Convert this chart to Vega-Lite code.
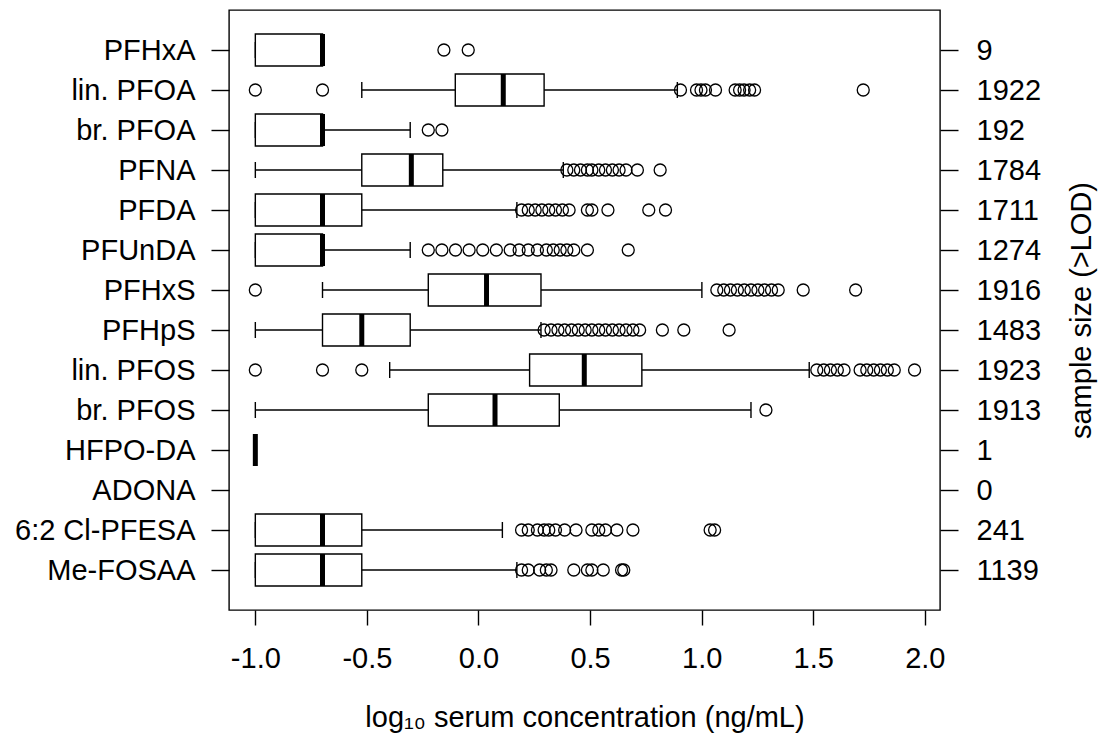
{
  "$schema": "https://vega.github.io/schema/vega-lite/v6.json",
  "width": 711,
  "height": 600,
  "autosize": "none",
  "padding": {"left": 229, "top": 10, "right": 160, "bottom": 135},
  "background": "white",
  "config": {
    "view": {"stroke": "black", "strokeWidth": 1.4},
    "font": "Liberation Sans",
    "axis": {
      "labelFont": "Liberation Sans", "labelFontSize": 29, "labelColor": "black", "labelLimit": 400,
      "titleFont": "Liberation Sans", "titleFontSize": 29, "titleFontWeight": "normal", "titleColor": "black",
      "tickColor": "black", "tickSize": 18, "tickWidth": 1.4,
      "domain": false, "grid": false, "labelPadding": 16
    }
  },
  "datasets": {
    "stats": [
      {"compound": "PFHxA", "order": 1, "n": 9, "lo": -1, "q1": -1, "med": -0.699, "q3": -0.699, "hi": -0.699},
      {"compound": "lin. PFOA", "order": 2, "n": 1922, "lo": -0.523, "q1": -0.104, "med": 0.111, "q3": 0.294, "hi": 0.891},
      {"compound": "br. PFOA", "order": 3, "n": 192, "lo": -1, "q1": -1, "med": -0.699, "q3": -0.699, "hi": -0.306},
      {"compound": "PFNA", "order": 4, "n": 1784, "lo": -1, "q1": -0.523, "med": -0.301, "q3": -0.16, "hi": 0.38},
      {"compound": "PFDA", "order": 5, "n": 1711, "lo": -1, "q1": -1, "med": -0.699, "q3": -0.523, "hi": 0.172},
      {"compound": "PFUnDA", "order": 6, "n": 1274, "lo": -1, "q1": -1, "med": -0.699, "q3": -0.699, "hi": -0.306},
      {"compound": "PFHxS", "order": 7, "n": 1916, "lo": -0.699, "q1": -0.225, "med": 0.036, "q3": 0.28, "hi": 1.001},
      {"compound": "PFHpS", "order": 8, "n": 1483, "lo": -1, "q1": -0.699, "med": -0.523, "q3": -0.306, "hi": 0.28},
      {"compound": "lin. PFOS", "order": 9, "n": 1923, "lo": -0.398, "q1": 0.229, "med": 0.474, "q3": 0.732, "hi": 1.482},
      {"compound": "br. PFOS", "order": 10, "n": 1913, "lo": -1, "q1": -0.225, "med": 0.074, "q3": 0.362, "hi": 1.221},
      {"compound": "HFPO-DA", "order": 11, "n": 1, "lo": -1, "q1": -1, "med": -1, "q3": -1, "hi": -1},
      {"compound": "ADONA", "order": 12, "n": 0, "lo": null, "q1": null, "med": null, "q3": null, "hi": null},
      {"compound": "6:2 Cl-PFESA", "order": 13, "n": 241, "lo": -1, "q1": -1, "med": -0.699, "q3": -0.523, "hi": 0.107},
      {"compound": "Me-FOSAA", "order": 14, "n": 1139, "lo": -1, "q1": -1, "med": -0.699, "q3": -0.523, "hi": 0.172}
    ],
    "outliers": [
      {"compound": "PFHxA", "x": -0.155}, {"compound": "PFHxA", "x": -0.046},
      {"compound": "lin. PFOA", "x": -1.0}, {"compound": "lin. PFOA", "x": -0.699},
      {"compound": "lin. PFOA", "x": 0.905}, {"compound": "lin. PFOA", "x": 0.977},
      {"compound": "lin. PFOA", "x": 0.997}, {"compound": "lin. PFOA", "x": 1.017},
      {"compound": "lin. PFOA", "x": 1.062}, {"compound": "lin. PFOA", "x": 1.15},
      {"compound": "lin. PFOA", "x": 1.17}, {"compound": "lin. PFOA", "x": 1.19},
      {"compound": "lin. PFOA", "x": 1.215}, {"compound": "lin. PFOA", "x": 1.237},
      {"compound": "lin. PFOA", "x": 1.724},
      {"compound": "br. PFOA", "x": -0.225}, {"compound": "br. PFOA", "x": -0.164},
      {"compound": "PFNA", "x": 0.396}, {"compound": "PFNA", "x": 0.427},
      {"compound": "PFNA", "x": 0.457}, {"compound": "PFNA", "x": 0.488},
      {"compound": "PFNA", "x": 0.508}, {"compound": "PFNA", "x": 0.539},
      {"compound": "PFNA", "x": 0.569}, {"compound": "PFNA", "x": 0.6},
      {"compound": "PFNA", "x": 0.63}, {"compound": "PFNA", "x": 0.661},
      {"compound": "PFNA", "x": 0.712}, {"compound": "PFNA", "x": 0.814},
      {"compound": "PFDA", "x": 0.193}, {"compound": "PFDA", "x": 0.223},
      {"compound": "PFDA", "x": 0.254}, {"compound": "PFDA", "x": 0.284},
      {"compound": "PFDA", "x": 0.315}, {"compound": "PFDA", "x": 0.345},
      {"compound": "PFDA", "x": 0.376}, {"compound": "PFDA", "x": 0.406},
      {"compound": "PFDA", "x": 0.488}, {"compound": "PFDA", "x": 0.508},
      {"compound": "PFDA", "x": 0.58}, {"compound": "PFDA", "x": 0.763},
      {"compound": "PFDA", "x": 0.838},
      {"compound": "PFUnDA", "x": -0.225}, {"compound": "PFUnDA", "x": -0.164},
      {"compound": "PFUnDA", "x": -0.103}, {"compound": "PFUnDA", "x": -0.042},
      {"compound": "PFUnDA", "x": 0.019}, {"compound": "PFUnDA", "x": 0.08},
      {"compound": "PFUnDA", "x": 0.142}, {"compound": "PFUnDA", "x": 0.182},
      {"compound": "PFUnDA", "x": 0.223}, {"compound": "PFUnDA", "x": 0.264},
      {"compound": "PFUnDA", "x": 0.304}, {"compound": "PFUnDA", "x": 0.335},
      {"compound": "PFUnDA", "x": 0.366}, {"compound": "PFUnDA", "x": 0.396},
      {"compound": "PFUnDA", "x": 0.427}, {"compound": "PFUnDA", "x": 0.488},
      {"compound": "PFUnDA", "x": 0.671},
      {"compound": "PFHxS", "x": -1.0},
      {"compound": "PFHxS", "x": 1.068}, {"compound": "PFHxS", "x": 1.099},
      {"compound": "PFHxS", "x": 1.129}, {"compound": "PFHxS", "x": 1.16},
      {"compound": "PFHxS", "x": 1.191}, {"compound": "PFHxS", "x": 1.221},
      {"compound": "PFHxS", "x": 1.252}, {"compound": "PFHxS", "x": 1.282},
      {"compound": "PFHxS", "x": 1.313}, {"compound": "PFHxS", "x": 1.343},
      {"compound": "PFHxS", "x": 1.455}, {"compound": "PFHxS", "x": 1.69},
      {"compound": "PFHpS", "x": 0.294}, {"compound": "PFHpS", "x": 0.325},
      {"compound": "PFHpS", "x": 0.356}, {"compound": "PFHpS", "x": 0.386},
      {"compound": "PFHpS", "x": 0.417}, {"compound": "PFHpS", "x": 0.447},
      {"compound": "PFHpS", "x": 0.478}, {"compound": "PFHpS", "x": 0.508},
      {"compound": "PFHpS", "x": 0.539}, {"compound": "PFHpS", "x": 0.569},
      {"compound": "PFHpS", "x": 0.6}, {"compound": "PFHpS", "x": 0.63},
      {"compound": "PFHpS", "x": 0.661}, {"compound": "PFHpS", "x": 0.692},
      {"compound": "PFHpS", "x": 0.722}, {"compound": "PFHpS", "x": 0.824},
      {"compound": "PFHpS", "x": 0.92}, {"compound": "PFHpS", "x": 1.123},
      {"compound": "lin. PFOS", "x": -1.0}, {"compound": "lin. PFOS", "x": -0.699},
      {"compound": "lin. PFOS", "x": -0.523},
      {"compound": "lin. PFOS", "x": 1.516}, {"compound": "lin. PFOS", "x": 1.547},
      {"compound": "lin. PFOS", "x": 1.577}, {"compound": "lin. PFOS", "x": 1.608},
      {"compound": "lin. PFOS", "x": 1.638}, {"compound": "lin. PFOS", "x": 1.71},
      {"compound": "lin. PFOS", "x": 1.74}, {"compound": "lin. PFOS", "x": 1.771},
      {"compound": "lin. PFOS", "x": 1.801}, {"compound": "lin. PFOS", "x": 1.832},
      {"compound": "lin. PFOS", "x": 1.863}, {"compound": "lin. PFOS", "x": 1.954},
      {"compound": "br. PFOS", "x": 1.288},
      {"compound": "6:2 Cl-PFESA", "x": 0.193}, {"compound": "6:2 Cl-PFESA", "x": 0.223},
      {"compound": "6:2 Cl-PFESA", "x": 0.264}, {"compound": "6:2 Cl-PFESA", "x": 0.294},
      {"compound": "6:2 Cl-PFESA", "x": 0.315}, {"compound": "6:2 Cl-PFESA", "x": 0.345},
      {"compound": "6:2 Cl-PFESA", "x": 0.386}, {"compound": "6:2 Cl-PFESA", "x": 0.437},
      {"compound": "6:2 Cl-PFESA", "x": 0.508}, {"compound": "6:2 Cl-PFESA", "x": 0.539},
      {"compound": "6:2 Cl-PFESA", "x": 0.569}, {"compound": "6:2 Cl-PFESA", "x": 0.62},
      {"compound": "6:2 Cl-PFESA", "x": 0.692}, {"compound": "6:2 Cl-PFESA", "x": 1.038},
      {"compound": "6:2 Cl-PFESA", "x": 1.058},
      {"compound": "Me-FOSAA", "x": 0.193}, {"compound": "Me-FOSAA", "x": 0.223},
      {"compound": "Me-FOSAA", "x": 0.274}, {"compound": "Me-FOSAA", "x": 0.304},
      {"compound": "Me-FOSAA", "x": 0.325}, {"compound": "Me-FOSAA", "x": 0.427},
      {"compound": "Me-FOSAA", "x": 0.488}, {"compound": "Me-FOSAA", "x": 0.508},
      {"compound": "Me-FOSAA", "x": 0.559}, {"compound": "Me-FOSAA", "x": 0.641},
      {"compound": "Me-FOSAA", "x": 0.651}
    ]
  },
  "layer": [
    {
      "layer": [
        {
          "data": {"name": "stats"},
          "transform": [{"filter": {"field": "med", "valid": true}}],
          "mark": {"type": "rule", "color": "black", "strokeWidth": 1.4},
          "encoding": {
            "y": {"field": "compound", "type": "nominal",
                  "scale": {"type": "point", "padding": 1.03,
                            "domain": ["PFHxA", "lin. PFOA", "br. PFOA", "PFNA", "PFDA", "PFUnDA", "PFHxS", "PFHpS", "lin. PFOS", "br. PFOS", "HFPO-DA", "ADONA", "6:2 Cl-PFESA", "Me-FOSAA"]},
                  "axis": {"title": null, "orient": "left", "labelPadding": 16}},
            "x": {"field": "lo", "type": "quantitative",
                  "scale": {"domain": [-1.118, 2.068], "nice": false, "zero": false},
                  "axis": {"title": "log₁₀ serum concentration (ng/mL)",
                           "values": [-1, -0.5, 0, 0.5, 1, 1.5, 2],
                           "labelExpr": "replace(format(datum.value, '.1f'), '\u2212', '-')",
                           "tickSize": 15, "labelPadding": 19, "titlePadding": 30}},
            "x2": {"field": "hi"}
          }
        },
        {
          "data": {"name": "stats"},
          "transform": [{"filter": {"field": "med", "valid": true}}],
          "mark": {"type": "tick", "color": "black", "opacity": 1, "size": 16, "thickness": 1.4},
          "encoding": {
            "y": {"field": "compound", "type": "nominal"},
            "x": {"field": "lo", "type": "quantitative"}
          }
        },
        {
          "data": {"name": "stats"},
          "transform": [{"filter": {"field": "med", "valid": true}}],
          "mark": {"type": "tick", "color": "black", "opacity": 1, "size": 16, "thickness": 1.4},
          "encoding": {
            "y": {"field": "compound", "type": "nominal"},
            "x": {"field": "hi", "type": "quantitative"}
          }
        },
        {
          "data": {"name": "stats"},
          "transform": [{"filter": {"field": "med", "valid": true}}],
          "mark": {"type": "bar", "fill": "white", "stroke": "black", "opacity": 1, "strokeWidth": 1.4, "size": 32},
          "encoding": {
            "y": {"field": "compound", "type": "nominal"},
            "x": {"field": "q1", "type": "quantitative"},
            "x2": {"field": "q3"}
          }
        },
        {
          "data": {"name": "stats"},
          "transform": [{"filter": {"field": "med", "valid": true}}],
          "mark": {"type": "tick", "color": "black", "opacity": 1, "size": 32, "thickness": 5},
          "encoding": {
            "y": {"field": "compound", "type": "nominal"},
            "x": {"field": "med", "type": "quantitative"}
          }
        },
        {
          "data": {"name": "outliers"},
          "mark": {"type": "point", "shape": "circle", "filled": false, "color": "black", "opacity": 1, "strokeWidth": 1.3, "size": 144},
          "encoding": {
            "y": {"field": "compound", "type": "nominal"},
            "x": {"field": "x", "type": "quantitative"}
          }
        }
      ]
    },
    {
      "data": {"name": "stats"},
      "mark": {"type": "point", "opacity": 0},
      "encoding": {
        "y": {"field": "n", "type": "nominal",
              "sort": {"field": "order", "op": "min"},
              "scale": {"type": "point", "padding": 1.03},
              "axis": {"orient": "right", "title": "sample size (>LOD)", "titleAngle": -90,
                       "labelPadding": 18, "titlePadding": 56, "labelAlign": "left"}}
      }
    }
  ],
  "resolve": {"scale": {"y": "independent"}}
}
